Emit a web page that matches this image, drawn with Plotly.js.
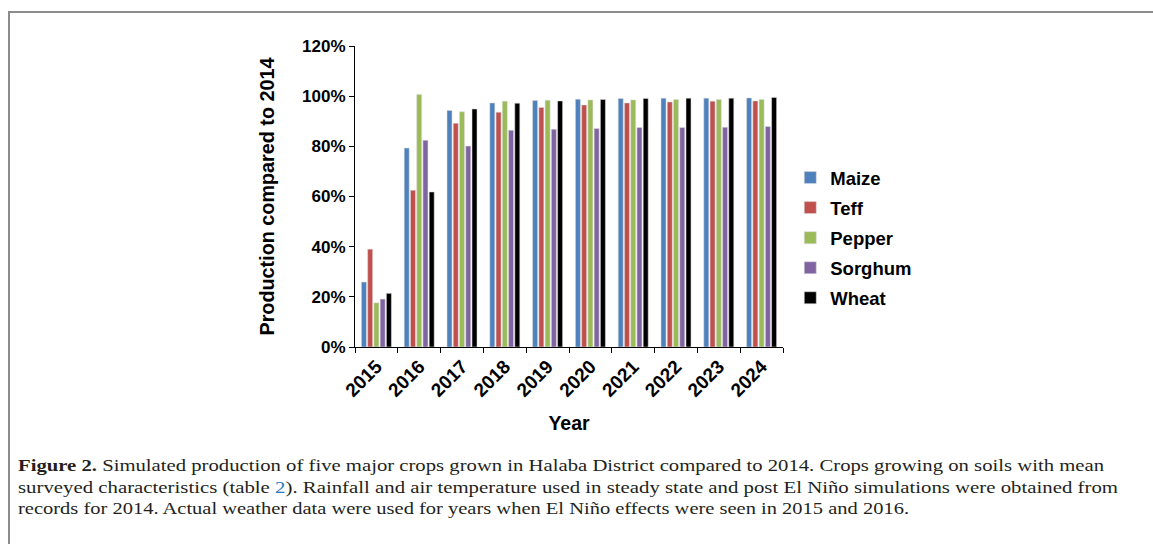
<!DOCTYPE html>
<html>
<head>
<meta charset="utf-8">
<script src="https://cdn.plot.ly/plotly-3.0.1.min.js"></script>
<style>
  html, body { margin:0; padding:0; background:#fff; width:1153px; height:544px; overflow:hidden; }
  #frame { position:absolute; left:8px; top:11px; width:1170px; height:600px; border:2px solid #8c8c8c; box-sizing:border-box; }
  #chart { position:absolute; left:0; top:0; width:1153px; height:544px; }
  #caption { position:absolute; left:18px; top:455px; font-family:"Liberation Serif","Times New Roman",serif; font-size:17.5px; color:#231f20; line-height:21.5px; }
  #caption .ln { white-space:nowrap; display:block; transform-origin:left center; }
  #caption .ln span.in { display:inline-block; }
  #caption a { color:#2a7ab8; text-decoration:none; }
</style>
</head>
<body>
<div id="frame"></div>
<div id="chart"></div>
<div id="caption">
  <div class="ln" data-w="1086"><span class="in"><b>Figure 2.</b> Simulated production of five major crops grown in Halaba District compared to 2014. Crops growing on soils with mean</span></div>
  <div class="ln" data-w="1100"><span class="in">surveyed characteristics (table <a>2</a>). Rainfall and air temperature used in steady state and post El Niño simulations were obtained from</span></div>
  <div class="ln" data-w="891"><span class="in">records for 2014. Actual weather data were used for years when El Niño effects were seen in 2015 and 2016.</span></div>
</div>
<script>
const years = ['2015','2016','2017','2018','2019','2020','2021','2022','2023','2024'];
const seriesNames = ['Maize','Teff','Pepper','Sorghum','Wheat'];
const maize   = [0.259, 0.793, 0.943, 0.973, 0.983, 0.988, 0.991, 0.992, 0.992, 0.993];
const teff    = [0.390, 0.625, 0.892, 0.936, 0.955, 0.965, 0.973, 0.977, 0.980, 0.981];
const pepper  = [0.176, 1.007, 0.938, 0.980, 0.984, 0.985, 0.985, 0.987, 0.987, 0.987];
const sorghum = [0.191, 0.824, 0.801, 0.864, 0.868, 0.871, 0.875, 0.875, 0.876, 0.879];
const wheat   = [0.214, 0.618, 0.949, 0.972, 0.981, 0.987, 0.991, 0.992, 0.992, 0.995];
const yTicks = [0, 0.2, 0.4, 0.6, 0.8, 1.0, 1.2];
const yTickText = ['0%','20%','40%','60%','80%','100%','120%'];

const colors = ['#4F81BD','#C0504D','#9BBB59','#8064A2','#000000'];
const values = [maize, teff, pepper, sorghum, wheat];

const traces = seriesNames.map((n, i) => ({
  type: 'bar', name: '<b>' + n + '</b>', x: years, y: values[i],
  legendgroup: n,
  marker: { color: colors[i], line: { color: 'rgba(220,220,220,0.9)', width: 0.6 } },
  hoverinfo: 'skip'
}));

const font = "Liberation Sans, Arial, sans-serif";
const layout = {
  width: 1153, height: 544,
  margin: { l: 355, r: 370, t: 46, b: 197 },
  paper_bgcolor: 'rgba(0,0,0,0)', plot_bgcolor: 'rgba(0,0,0,0)',
  barmode: 'group', bargap: 0.27, bargroupgap: 0.2,
  showlegend: true,
  legend: {
    x: 1.017, xanchor: 'left', y: 0.362, yanchor: 'middle',
    font: { family: font, size: 18.5, color: '#000' },
    traceorder: 'grouped', tracegroupgap: 3,
    itemwidth: 30, bgcolor: 'rgba(0,0,0,0)'
  },
  xaxis: {
    type: 'category', tickson: 'boundaries', ticks: 'outside', ticklen: 5, tickwidth: 1, tickcolor: '#000',
    showline: true, linecolor: '#000', linewidth: 1, showgrid: false, zeroline: false,
    tickangle: -45, tickfont: { family: font, size: 19, color: '#000', weight: 'bold' },
    title: { text: '<b>Year</b>', font: { family: font, size: 19.5, color: '#000' }, standoff: 16 },
    automargin: false
  },
  yaxis: {
    range: [0, 1.2], tickvals: yTicks, ticktext: yTickText.map(t => '<b>' + t + '</b>'),
    ticks: 'outside', ticklen: 5, tickwidth: 1, tickcolor: '#000',
    showline: true, linecolor: '#000', linewidth: 1, showgrid: false, zeroline: false,
    tickfont: { family: font, size: 17, color: '#000' },
    title: { text: '<b>Production compared to 2014</b>', font: { family: font, size: 19.8, color: '#000' }, standoff: 22 },
    automargin: false
  }
};

Plotly.newPlot('chart', traces, layout, { staticPlot: true, displayModeBar: false });

document.querySelectorAll('#caption .ln').forEach(ln => {
  const inner = ln.querySelector('.in');
  const w = inner.getBoundingClientRect().width;
  const target = parseFloat(ln.dataset.w);
  ln.style.transform = 'scaleX(' + (target / w) + ')';
});
</script>
</body>
</html>
